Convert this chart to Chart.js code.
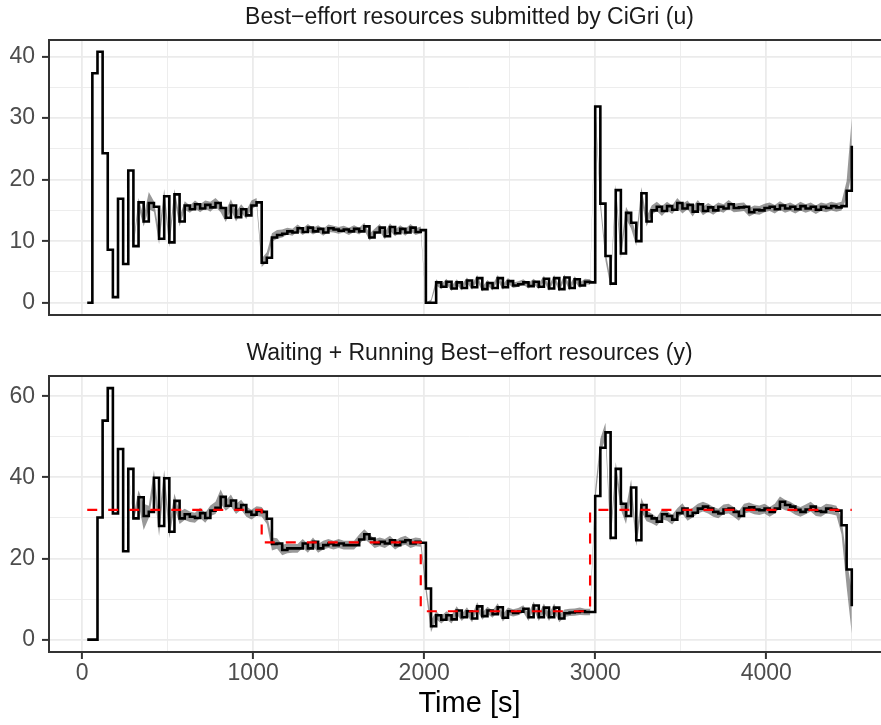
<!DOCTYPE html>
<html>
<head>
<meta charset="utf-8">
<title>CiGri best-effort resources</title>
<script src="https://cdn.jsdelivr.net/npm/chart.js@4.4.0/dist/chart.umd.min.js"></script>
<style>
  html, body { margin: 0; padding: 0; background: #fff; overflow: hidden; width: 881px; height: 725px; }
  .panel { position: absolute; left: 0; }
</style>
</head>
<body>
<div class="panel" style="top:0"><canvas id="chart-u" width="900" height="336"></canvas></div>
<div class="panel" style="top:336px"><canvas id="chart-y" width="900" height="389"></canvas></div>
<script>
// sample times [s]
const timeS = [
  30, 60, 90, 120, 150, 180, 210, 240, 270, 300, 330, 360, 390, 420, 450,
  480, 510, 540, 570, 600, 630, 660, 690, 720, 750, 780, 810, 840, 870, 900,
  930, 960, 990, 1020, 1050, 1080, 1110, 1140, 1170, 1200, 1230, 1260, 1290, 1320, 1350,
  1380, 1410, 1440, 1470, 1500, 1530, 1560, 1590, 1620, 1650, 1680, 1710, 1740, 1770, 1800,
  1830, 1860, 1890, 1920, 1950, 1980, 2010, 2040, 2070, 2100, 2130, 2160, 2190, 2220, 2250,
  2280, 2310, 2340, 2370, 2400, 2430, 2460, 2490, 2520, 2550, 2580, 2610, 2640, 2670, 2700,
  2730, 2760, 2790, 2820, 2850, 2880, 2910, 2940, 2970, 3000, 3030, 3060, 3090, 3120, 3150,
  3180, 3210, 3240, 3270, 3300, 3330, 3360, 3390, 3420, 3450, 3480, 3510, 3540, 3570, 3600,
  3630, 3660, 3690, 3720, 3750, 3780, 3810, 3840, 3870, 3900, 3930, 3960, 3990, 4020, 4050,
  4080, 4110, 4140, 4170, 4200, 4230, 4260, 4290, 4320, 4350, 4380, 4410, 4440, 4470, 4500
];

// top panel: submitted resources (u), mean and ribbon bounds
const submittedU = [
  0, 37.3, 40.8, 24.3, 8.6, 0.9, 16.9, 6.3, 21.5, 9.2, 16.3, 13.2, 16.2, 15.6, 10.4,
  17.3, 9.8, 17.6, 13.2, 15.8, 15.2, 16.0, 15.3, 15.9, 15.5, 16.2, 15.4, 13.8, 15.8, 13.9,
  15.2, 14.2, 15.8, 16.3, 6.5, 7.3, 10.6, 11.0, 11.2, 11.6, 11.4, 12.1, 11.5, 12.2, 11.6,
  12.0, 11.4, 12.1, 11.9, 11.7, 11.9, 11.6, 12.0, 11.6, 12.4, 10.6, 11.4, 12.2, 10.8, 12.3,
  11.3, 12.0, 11.4, 12.2, 11.5, 11.8, 0, 0, 3.3, 2.6, 3.4, 2.3, 3.3, 2.4, 3.6,
  2.5, 4.0, 2.2, 3.2, 2.4, 4.0, 2.5, 3.5, 2.8, 3.0, 3.3, 2.7, 3.4, 2.6, 3.9,
  2.3, 4.0, 2.2, 4.1, 2.4, 3.8, 2.8, 3.4, 3.3, 31.9, 16.1, 7.6, 3.1, 18.3, 8.0,
  14.6, 13.0, 10.0, 17.8, 13.2, 15.0, 15.6, 14.9, 15.7, 15.1, 16.2, 15.3, 15.9, 14.8, 16.0,
  14.9, 15.5, 15.0, 15.6, 15.3, 16.0, 15.4, 15.5, 15.6, 14.7, 15.1, 15.0, 15.4, 15.6, 15.2,
  15.8, 15.3, 15.6, 15.2, 15.7, 15.3, 15.6, 15.1, 15.6, 15.4, 15.7, 15.5, 15.7, 18.2, 25.5
];
const submittedLow = [
  0, 37.3, 40.8, 24.3, 8.6, 0.9, 16.9, 6.3, 21.5, 9.0, 15.5, 12.4, 15.2, 14.8, 9.5,
  16.4, 9.0, 16.8, 12.4, 15.1, 14.6, 15.3, 14.7, 15.3, 14.8, 15.6, 14.7, 13.1, 15.1, 13.2,
  14.6, 13.6, 15.2, 15.7, 5.8, 6.6, 9.9, 10.4, 10.6, 11.1, 10.9, 11.6, 11.0, 11.6, 11.1,
  11.5, 10.9, 11.5, 11.4, 11.2, 11.4, 11.0, 11.5, 11.1, 11.8, 10.1, 10.9, 11.6, 10.3, 11.7,
  10.8, 11.5, 10.9, 11.6, 11.0, 11.3, 0, 0, 2.8, 2.2, 3.0, 1.9, 2.9, 2.0, 3.2,
  2.1, 3.5, 1.8, 2.8, 2.0, 3.6, 2.1, 3.1, 2.4, 2.6, 2.9, 2.3, 3.0, 2.2, 3.5,
  1.9, 3.6, 1.8, 3.7, 2.0, 3.4, 2.4, 3.0, 2.9, 31.2, 15.3, 6.8, 2.5, 17.4, 7.2,
  13.6, 12.0, 9.2, 16.8, 12.4, 14.3, 14.9, 14.1, 15.0, 14.4, 15.4, 14.5, 15.2, 14.0, 15.3,
  14.2, 14.8, 14.3, 14.9, 14.6, 15.3, 14.7, 14.8, 14.9, 14.0, 14.4, 14.3, 14.7, 14.9, 14.5,
  15.1, 14.6, 14.9, 14.5, 15.0, 14.6, 14.9, 14.4, 14.9, 14.7, 15.0, 14.8, 15.0, 17.0, 21.0
];
const submittedHigh = [
  0, 37.3, 40.8, 24.3, 8.6, 0.9, 16.9, 6.3, 21.5, 9.5, 17.0, 14.0, 18.0, 16.5, 11.5,
  18.5, 10.8, 18.5, 14.0, 16.5, 15.8, 16.6, 16.0, 16.6, 16.4, 17.0, 16.2, 15.0, 16.8, 14.8,
  16.0, 15.0, 16.6, 17.0, 7.2, 8.2, 11.3, 11.8, 11.9, 12.2, 12.0, 12.7, 12.1, 12.8, 12.2,
  12.6, 12.0, 12.7, 12.5, 12.3, 12.5, 12.2, 12.6, 12.2, 13.0, 11.2, 12.0, 12.8, 11.4, 12.9,
  11.9, 12.6, 12.0, 12.8, 12.1, 12.4, 0, 0.5, 3.8, 3.0, 3.9, 2.7, 3.8, 2.9, 4.1,
  3.0, 4.5, 2.6, 3.7, 2.9, 4.5, 3.0, 4.0, 3.3, 3.5, 3.8, 3.2, 3.9, 3.1, 4.4,
  2.8, 4.5, 2.7, 4.6, 2.9, 4.3, 3.3, 3.9, 3.8, 32.5, 17.0, 8.4, 3.8, 19.2, 8.9,
  15.6, 14.0, 11.0, 18.8, 14.0, 15.8, 16.4, 15.7, 16.4, 15.8, 17.0, 16.1, 16.6, 15.6, 16.7,
  15.6, 16.2, 15.7, 16.3, 16.0, 16.7, 16.1, 16.2, 16.3, 15.4, 15.8, 15.7, 16.1, 16.3, 15.9,
  16.5, 16.0, 16.3, 15.9, 16.4, 16.0, 16.3, 15.8, 16.3, 16.1, 16.4, 16.2, 16.4, 19.8, 30.0
];

// bottom panel: waiting + running resources (y), mean and ribbon bounds
const waitingRunningY = [
  0, 0, 30.1, 54.0, 62.0, 31.1, 47.0, 21.8, 42.1, 29.9, 35.1, 30.5, 31.5, 39.9, 28.0,
  39.8, 26.6, 34.2, 29.9, 30.9, 30.3, 30.0, 31.2, 30.0, 31.8, 32.5, 35.2, 33.0, 34.3, 32.2,
  33.2, 31.5, 30.8, 31.7, 31.5, 29.8, 23.6, 23.7, 22.1, 22.5, 22.5, 22.5, 23.7, 22.5, 24.1,
  22.5, 23.3, 23.7, 23.3, 23.7, 23.3, 23.3, 23.3, 24.7, 26.0, 24.9, 23.7, 24.1, 23.7, 24.5,
  23.3, 24.1, 24.5, 23.7, 24.1, 23.9, 12.6, 3.3, 6.0, 4.9, 6.0, 5.0, 7.2, 5.5, 7.0,
  5.2, 8.2, 5.8, 7.2, 6.3, 8.0, 5.4, 7.0, 6.6, 6.9, 7.6, 5.5, 8.4, 5.5, 7.9,
  5.5, 7.9, 5.2, 6.5, 6.7, 6.8, 7.0, 6.8, 6.8, 35.4, 47.3, 51.1, 25.1, 42.1, 33.5,
  30.5, 37.5, 24.5, 33.2, 30.5, 29.9, 29.1, 30.9, 30.5, 29.6, 31.2, 32.3, 30.5, 31.3, 32.3,
  32.8, 32.3, 31.5, 31.1, 32.1, 32.3, 31.5, 30.5, 32.3, 32.6, 32.1, 31.9, 32.3, 31.5, 32.3,
  34.0, 33.2, 32.8, 32.0, 31.5, 32.1, 32.8, 31.7, 31.5, 32.3, 32.1, 31.8, 28.2, 17.3, 8.2
];
const waitingRunningLow = [
  0, 0, 30.1, 54.0, 62.0, 31.1, 47.0, 21.8, 42.1, 29.5, 33.5, 27.0, 30.0, 37.5, 25.5,
  38.0, 25.0, 32.5, 28.5, 29.5, 29.0, 28.8, 30.0, 28.8, 30.5, 31.0, 33.5, 31.8, 32.8, 31.0,
  32.0, 30.3, 29.6, 30.5, 30.3, 28.5, 22.0, 22.4, 20.8, 21.3, 21.4, 21.4, 22.6, 21.4, 23.0,
  21.4, 22.2, 22.6, 22.2, 22.6, 22.2, 22.2, 22.2, 23.5, 24.8, 23.8, 22.6, 23.0, 22.6, 23.4,
  22.2, 23.0, 23.4, 22.6, 23.0, 22.9, 11.5, 1.8, 5.0, 4.0, 5.0, 4.0, 6.2, 4.6, 6.0,
  4.3, 7.2, 4.9, 6.3, 5.4, 7.0, 4.5, 6.1, 5.7, 6.0, 6.7, 4.6, 7.4, 4.6, 6.9,
  4.6, 6.9, 4.3, 5.6, 5.8, 5.9, 6.1, 6.0, 6.0, 34.0, 46.0, 49.5, 24.0, 40.5, 32.0,
  28.5, 35.5, 23.0, 31.5, 29.2, 28.7, 28.0, 29.7, 29.3, 28.4, 30.0, 31.0, 29.3, 30.1, 31.1,
  31.6, 31.1, 30.3, 29.9, 30.9, 31.1, 30.3, 29.3, 31.1, 31.4, 30.9, 30.7, 31.1, 30.3, 31.1,
  32.6, 31.9, 31.6, 30.8, 30.3, 30.9, 31.6, 30.5, 30.3, 31.1, 30.9, 30.6, 26.0, 13.0, 1.5
];
const waitingRunningHigh = [
  0, 0, 30.1, 54.0, 62.0, 31.1, 47.0, 21.8, 42.1, 30.5, 36.8, 33.5, 33.0, 41.8, 30.5,
  41.8, 28.5, 36.0, 31.5, 32.3, 31.6, 31.3, 32.5, 31.3, 33.1, 34.0, 37.0, 34.3, 35.8, 33.5,
  34.5, 32.8, 32.0, 32.9, 32.7, 31.0, 25.2, 25.0, 23.4, 23.7, 23.6, 23.6, 24.8, 23.6, 25.2,
  23.6, 24.4, 24.8, 24.4, 24.8, 24.4, 24.4, 24.4, 25.9, 27.2, 26.0, 24.8, 25.2, 24.8, 25.6,
  24.4, 25.2, 25.6, 24.8, 25.2, 25.0, 13.8, 4.8, 7.0, 5.8, 7.0, 6.0, 8.2, 6.4, 8.0,
  6.1, 9.2, 6.7, 8.1, 7.2, 9.0, 6.3, 7.9, 7.5, 7.8, 8.5, 6.4, 9.4, 6.4, 8.9,
  6.4, 8.9, 6.1, 7.4, 7.6, 7.7, 7.9, 7.6, 7.6, 37.0, 49.5, 53.5, 26.5, 43.8, 35.0,
  32.5, 39.5, 26.0, 35.0, 31.8, 31.1, 30.2, 32.1, 31.7, 30.8, 32.4, 33.6, 31.7, 32.5, 33.5,
  34.0, 33.5, 32.7, 32.3, 33.3, 33.5, 32.7, 31.7, 33.5, 33.8, 33.3, 33.1, 33.5, 32.7, 33.5,
  35.3, 34.5, 34.0, 33.2, 32.7, 33.3, 34.0, 32.9, 32.7, 33.5, 33.3, 33.0, 30.0, 20.0, 12.0
];

// reference (setpoint) for y, red dashed
const refTimeS = [30, 1050, 1980, 2970, 4500];
const refValue = [32, 24, 7, 32, 32];

// axis ticks (major get labels, minor only grid lines)
const xMajorTicks = [0, 1000, 2000, 3000, 4000];
const xMinorTicks = [500, 1500, 2500, 3500, 4500];
const uMajorTicks = [0, 10, 20, 30, 40];
const uMinorTicks = [5, 15, 25, 35];
const yMajorTicks = [0, 20, 40, 60];
const yMinorTicks = [10, 30, 50];

const FONT = '"Liberation Sans", Arial, Helvetica, sans-serif';
const GRID = '#ebebeb';
const DARK = '#333333';
const RIBBON = 'rgba(0,0,0,0.4)';

Chart.defaults.font.family = FONT;

[submittedU, submittedLow, submittedHigh, waitingRunningY, waitingRunningLow, waitingRunningHigh].forEach((arr, i) => {
  if (arr.length !== timeS.length) throw new Error('series ' + i + ' has ' + arr.length + ' values');
});

function toPoints(xs, ys) {
  return xs.map((x, i) => ({ x: x, y: ys[i] }));
}

function isMajor(majors, ctx) {
  return !!(ctx.tick && majors.includes(ctx.tick.value));
}

function gridOptions(majors, withTicks) {
  return {
    color: GRID,
    lineWidth: ctx => isMajor(majors, ctx) ? 1.8 : 0.9,
    drawTicks: withTicks,
    tickLength: 7,
    tickWidth: 2,
    tickColor: ctx => isMajor(majors, ctx) ? DARK : 'rgba(0,0,0,0)'
  };
}

function tickList(majors, minors) {
  return majors.concat(minors).sort((a, b) => a - b).map(v => ({ value: v }));
}

const panelBorder = {
  id: 'panelBorder',
  afterDatasetsDraw(chart) {
    const { ctx, chartArea } = chart;
    ctx.save();
    ctx.strokeStyle = DARK;
    ctx.lineWidth = 2;
    ctx.strokeRect(chartArea.left, chartArea.top, chartArea.right - chartArea.left, chartArea.bottom - chartArea.top);
    ctx.restore();
  }
};

function buildDatasets(mean, low, high, withRef) {
  const sets = [];
  if (withRef) {
    sets.push({
      label: 'reference',
      data: toPoints(refTimeS, refValue),
      borderColor: '#ff0000',
      borderWidth: 2.2,
      borderDash: [10, 11],
      stepped: 'before',
      pointRadius: 0,
      fill: false
    });
  }
  sets.push({
    label: 'mean',
    data: toPoints(timeS, mean),
    borderColor: '#000000',
    borderWidth: 2.6,
    borderJoinStyle: 'miter',
    stepped: 'before',
    pointRadius: 0,
    fill: false
  });
  sets.push({
    label: 'ribbon high',
    data: toPoints(timeS, high),
    borderWidth: 0,
    borderColor: 'rgba(0,0,0,0)',
    backgroundColor: RIBBON,
    pointRadius: 0,
    tension: 0,
    fill: '+1'
  });
  sets.push({
    label: 'ribbon low',
    data: toPoints(timeS, low),
    borderWidth: 0,
    borderColor: 'rgba(0,0,0,0)',
    pointRadius: 0,
    tension: 0,
    fill: false
  });
  return sets;
}

function makePanel(canvasId, opts) {
  const canvas = document.getElementById(canvasId);
  return new Chart(canvas.getContext('2d'), {
    type: 'line',
    data: { datasets: buildDatasets(opts.mean, opts.low, opts.high, opts.withRef) },
    options: {
      responsive: false,
      animation: false,
      events: [],
      layout: { padding: { right: 10 } },
      plugins: {
        legend: { display: false },
        tooltip: { enabled: false },
        title: {
          display: true,
          text: opts.title,
          fullSize: false,
          color: '#1a1a1a',
          font: { size: 23, weight: 'normal' },
          padding: { top: 4, bottom: 8.4 }
        }
      },
      scales: {
        x: {
          type: 'linear',
          bounds: 'data',
          min: -193.5,
          max: 4723.5,
          afterBuildTicks: s => { s.ticks = tickList(xMajorTicks, xMinorTicks); },
          afterFit: s => { s.height = opts.xHeight; },
          grid: gridOptions(xMajorTicks, opts.xLabels),
          border: { display: false },
          ticks: {
            display: opts.xLabels,
            autoSkip: false,
            maxRotation: 0,
            padding: 1,
            color: '#4d4d4d',
            font: { size: 23 },
            callback: v => xMajorTicks.includes(v) ? String(v) : ''
          },
          title: {
            display: opts.xLabels,
            text: 'Time [s]',
            color: '#000000',
            font: { size: 29 },
            padding: { top: 0, bottom: 4 }
          }
        },
        y: {
          type: 'linear',
          bounds: 'data',
          min: opts.yMin,
          max: opts.yMax,
          afterBuildTicks: s => { s.ticks = tickList(opts.yMajor, opts.yMinor); },
          afterFit: s => { s.width = 49; },
          grid: gridOptions(opts.yMajor, true),
          border: { display: false },
          ticks: {
            autoSkip: false,
            padding: 7,
            color: '#4d4d4d',
            font: { size: 23 },
            callback: v => opts.yMajor.includes(v) ? String(v) : ''
          }
        }
      }
    },
    plugins: [panelBorder]
  });
}

makePanel('chart-u', {
  title: 'Best\u2212effort resources submitted by CiGri (u)',
  mean: submittedU, low: submittedLow, high: submittedHigh,
  withRef: false,
  yMin: -2.0, yMax: 42.7,
  yMajor: uMajorTicks, yMinor: uMinorTicks,
  xLabels: false, xHeight: 21
});

makePanel('chart-y', {
  title: 'Waiting + Running Best\u2212effort resources (y)',
  mean: waitingRunningY, low: waitingRunningLow, high: waitingRunningHigh,
  withRef: true,
  yMin: -3.05, yMax: 65.0,
  yMajor: yMajorTicks, yMinor: yMinorTicks,
  xLabels: true, xHeight: 73
});
</script>
</body>
</html>
